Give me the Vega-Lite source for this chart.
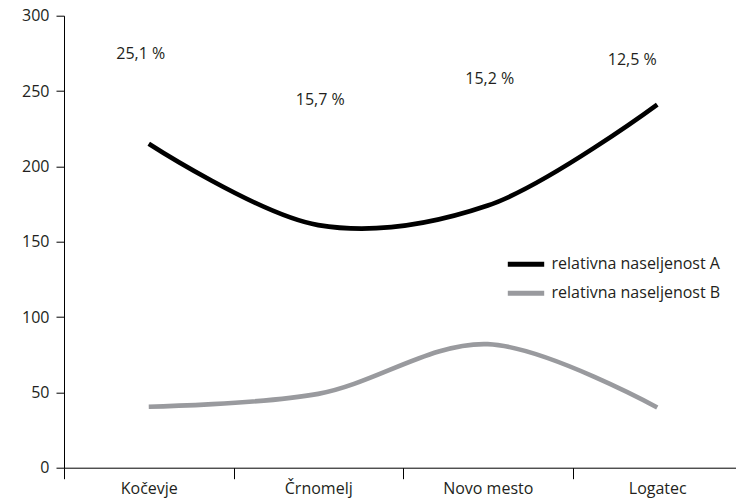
{
  "$schema": "https://vega.github.io/schema/vega-lite/v6.json",
  "width": 672,
  "height": 452,
  "autosize": {"type": "none"},
  "padding": {"left": 64, "top": 15.7, "right": 0, "bottom": 31.3},
  "config": {
    "view": {"stroke": null},
    "font": "Open Sans",
    "axis": {
      "domainColor": "#000000",
      "tickColor": "#000000",
      "labelColor": "#231f20",
      "labelFont": "Open Sans",
      "labelFontSize": 16,
      "grid": false,
      "title": null
    },
    "legend": {
      "labelFont": "Open Sans",
      "labelFontSize": 16,
      "labelColor": "#231f20",
      "labelLimit": 400
    },
    "text": {"fontSize": 16, "font": "Open Sans", "color": "#231f20", "baseline": "middle", "align": "center"}
  },
  "datasets": {
    "lines": [
      {"obcina": "Kočevje", "serija": "relativna naseljenost A", "vrednost": 215},
      {"obcina": "Črnomelj", "serija": "relativna naseljenost A", "vrednost": 161},
      {"obcina": "Novo mesto", "serija": "relativna naseljenost A", "vrednost": 174},
      {"obcina": "Logatec", "serija": "relativna naseljenost A", "vrednost": 241},
      {"obcina": "Kočevje", "serija": "relativna naseljenost B", "vrednost": 40.5},
      {"obcina": "Črnomelj", "serija": "relativna naseljenost B", "vrednost": 49},
      {"obcina": "Novo mesto", "serija": "relativna naseljenost B", "vrednost": 82},
      {"obcina": "Logatec", "serija": "relativna naseljenost B", "vrednost": 40}
    ],
    "labels": [
      {"obcina": "Kočevje", "delez": "25,1 %", "raven": 274.5},
      {"obcina": "Črnomelj", "delez": "15,7 %", "raven": 244},
      {"obcina": "Novo mesto", "delez": "15,2 %", "raven": 258},
      {"obcina": "Logatec", "delez": "12,5 %", "raven": 270.5}
    ]
  },
  "layer": [
    {
      "data": {"name": "lines"},
      "mark": {"type": "line", "interpolate": "catmull-rom", "strokeWidth": 4.6, "strokeCap": "butt"},
      "encoding": {
        "x": {
          "field": "obcina",
          "type": "nominal",
          "sort": ["Kočevje", "Črnomelj", "Novo mesto", "Logatec"],
          "scale": {"type": "band", "range": [0, 678], "paddingInner": 0, "paddingOuter": 0},
          "axis": {
            "orient": "bottom",
            "tickBand": "extent",
            "tickSize": 11,
            "labelPadding": 2,
            "labelAngle": 0,
            "domainWidth": 1,
            "tickWidth": 1
          }
        },
        "y": {
          "field": "vrednost",
          "type": "quantitative",
          "scale": {"domain": [0, 300], "nice": false, "zero": true},
          "axis": {
            "values": [0, 50, 100, 150, 200, 250, 300],
            "tickSize": 8,
            "labelPadding": 7,
            "domainWidth": 1,
            "tickWidth": 1
          }
        },
        "color": {
          "field": "serija",
          "type": "nominal",
          "scale": {
            "domain": ["relativna naseljenost A", "relativna naseljenost B"],
            "range": ["#000000", "#999a9e"]
          },
          "legend": {
            "title": null,
            "orient": "none",
            "legendX": 445.5,
            "legendY": 232,
            "padding": 0,
            "symbolType": "M-1.3,0H1.3",
            "symbolSize": 784,
            "symbolStrokeWidth": 5,
            "labelOffset": 9,
            "labelLimit": 400,
            "rowPadding": 2
          }
        }
      }
    },
    {
      "data": {"name": "labels"},
      "transform": [{"filter": "datum.obcina === 'Kočevje'"}],
      "mark": {"type": "text", "dx": -8},
      "encoding": {
        "x": {"field": "obcina", "type": "nominal", "sort": ["Kočevje", "Črnomelj", "Novo mesto", "Logatec"]},
        "y": {"field": "raven", "type": "quantitative"},
        "text": {"field": "delez"}
      }
    },
    {
      "data": {"name": "labels"},
      "transform": [{"filter": "datum.obcina === 'Črnomelj' || datum.obcina === 'Novo mesto'"}],
      "mark": {"type": "text", "dx": 2},
      "encoding": {
        "x": {"field": "obcina", "type": "nominal", "sort": ["Kočevje", "Črnomelj", "Novo mesto", "Logatec"]},
        "y": {"field": "raven", "type": "quantitative"},
        "text": {"field": "delez"}
      }
    },
    {
      "data": {"name": "labels"},
      "transform": [{"filter": "datum.obcina === 'Logatec'"}],
      "mark": {"type": "text", "dx": -25},
      "encoding": {
        "x": {"field": "obcina", "type": "nominal", "sort": ["Kočevje", "Črnomelj", "Novo mesto", "Logatec"]},
        "y": {"field": "raven", "type": "quantitative"},
        "text": {"field": "delez"}
      }
    }
  ]
}
